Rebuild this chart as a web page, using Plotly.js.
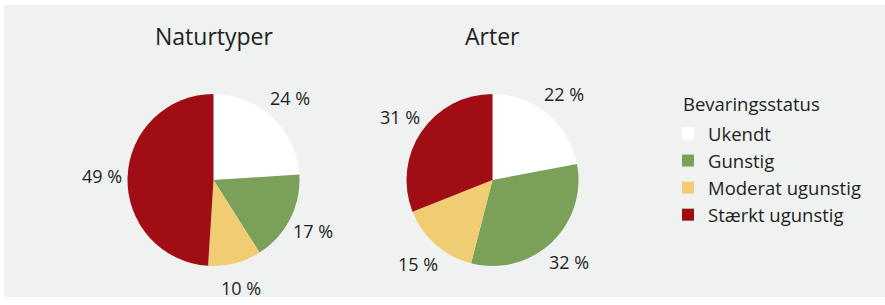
<!DOCTYPE html>
<html>
<head>
<meta charset="utf-8">
<script src="https://cdn.plot.ly/plotly-3.0.1.min.js"></script>
<style>html,body{margin:0;padding:0;background:#fff}#chart{width:885px;height:305px}</style>
</head>
<body>
<div id="chart"></div>
<script>
const categories = ["Ukendt", "Gunstig", "Moderat ugunstig", "Stærkt ugunstig"];
const naturtyperValues = [24, 17, 10, 49];
const arterValues = [22, 32, 15, 31];
const chartTitles = ["Naturtyper", "Arter"];
const legendTitle = "Bevaringsstatus";
const sliceColors = ["#ffffff", "#7aa05a", "#f0cd72", "#a10d15"];

const W = 885, H = 305;
const FONT = "Open Sans, Noto Sans, sans-serif";
const TXT = "#231f20";
const R = 86, CY = 180, LABEL_DIST = 112;

function pieTrace(values, name, cx) {
  return {
    type: "pie",
    name: name,
    labels: categories,
    values: values,
    sort: false,
    direction: "clockwise",
    rotation: 0,
    marker: {colors: sliceColors, line: {width: 0}},
    textinfo: "none",
    hoverinfo: "label+value",
    domain: {
      x: [(cx - R) / W, (cx + R) / W],
      y: [1 - (CY + R) / H, 1 - (CY - R) / H]
    }
  };
}

// value labels placed at each slice's mid-angle, derived from the data
function sliceLabels(values, cx) {
  const total = values.reduce((a, b) => a + b, 0);
  let cum = 0;
  return values.map(v => {
    const mid = (cum + v / 2) / total * 2 * Math.PI;
    cum += v;
    const px = cx + LABEL_DIST * Math.sin(mid);
    const py = CY - LABEL_DIST * Math.cos(mid);
    return {
      text: v + " %", x: px / W, y: 1 - py / H, xref: "paper", yref: "paper",
      showarrow: false, xanchor: "center", yanchor: "middle",
      font: {family: FONT, size: 18, color: TXT}
    };
  });
}

const centers = [213.5, 492.5];
const data = [
  pieTrace(naturtyperValues, chartTitles[0], centers[0]),
  pieTrace(arterValues, chartTitles[1], centers[1])
];

const annotations = [
  {text: chartTitles[0], x: 214 / W, y: 1 - 36 / H, xref: "paper", yref: "paper",
   showarrow: false, xanchor: "center", yanchor: "middle",
   font: {family: FONT, size: 23, color: TXT}},
  {text: chartTitles[1], x: 492 / W, y: 1 - 36 / H, xref: "paper", yref: "paper",
   showarrow: false, xanchor: "center", yanchor: "middle",
   font: {family: FONT, size: 23, color: TXT}},
  {text: legendTitle, x: 681 / W, y: 1 - 103 / H, xref: "paper", yref: "paper",
   showarrow: false, xanchor: "left", yanchor: "middle",
   font: {family: FONT, size: 18.5, color: TXT}}
].concat(sliceLabels(naturtyperValues, centers[0]), sliceLabels(arterValues, centers[1]));

const layout = {
  width: W, height: H,
  margin: {l: 0, r: 0, t: 0, b: 0},
  paper_bgcolor: "#ffffff",
  font: {family: FONT, color: TXT},
  showlegend: true,
  legend: {
    x: 668 / W, xanchor: "left",
    y: 1 - 115 / H, yanchor: "top",
    bgcolor: "rgba(0,0,0,0)",
    font: {family: FONT, size: 18.5, color: TXT},
    traceorder: "normal"
  },
  shapes: [{
    type: "rect", xref: "paper", yref: "paper", layer: "below",
    x0: 4 / W, x1: 1, y0: 1 - 297 / H, y1: 1 - 5 / H,
    fillcolor: "#f0f2f2", line: {width: 0}
  }],
  annotations: annotations
};

Plotly.newPlot("chart", data, layout, {displayModeBar: false, staticPlot: true});
</script>
</body>
</html>
